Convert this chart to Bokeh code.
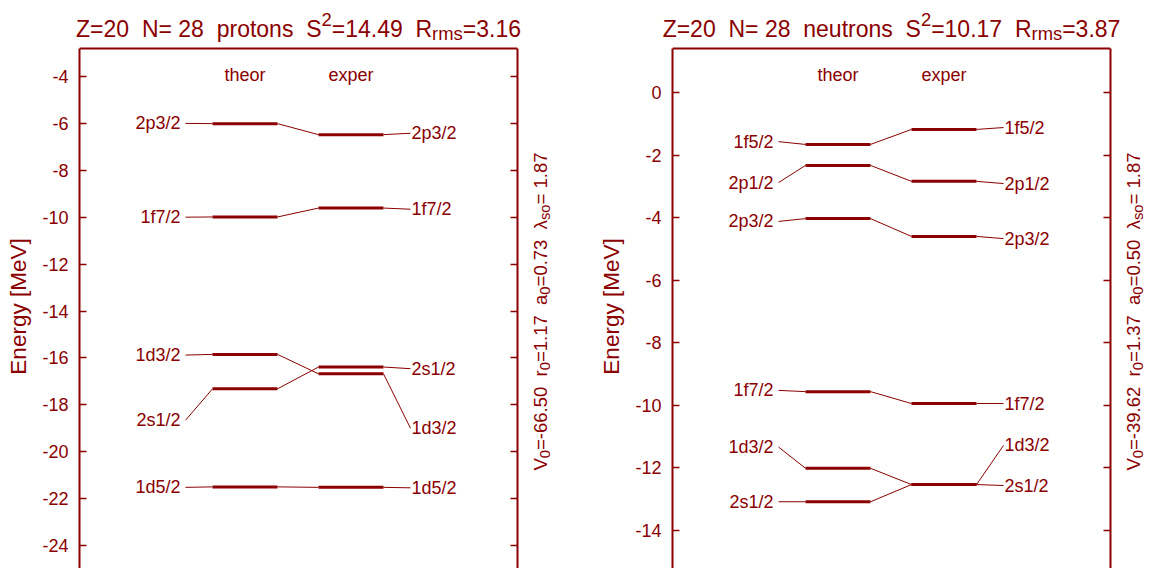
import math
from bokeh.plotting import figure
from bokeh.layouts import row, column
from bokeh.models import Label, LinearAxis, FixedTicker, Range1d, Span
from bokeh.core.properties import value
from bokeh.embed import file_html
from bokeh.resources import INLINE

# ---------------- data ----------------
p_states = ["2p3/2", "1f7/2", "1d3/2", "2s1/2", "1d5/2"]
p_theor = [-6.01, -9.99, -15.85, -17.32, -21.50]
p_exper = [-6.48, -9.61, -16.68, -16.39, -21.52]
p_label_theor = [-6.00, -10.00, -15.88, -18.66, -21.52]
p_label_exper = [-6.42, -9.66, -19.00, -16.46, -21.54]
p_ticks = [-24, -22, -20, -18, -16, -14, -12, -10, -8, -6, -4]

n_states = ["1f5/2", "2p1/2", "2p3/2", "1f7/2", "1d3/2", "2s1/2"]
n_theor = [-1.66, -2.33, -4.03, -9.56, -12.01, -13.08]
n_exper = [-1.18, -2.84, -4.60, -9.94, -12.53, -12.53]
n_label_theor = [-1.57, -2.88, -4.12, -9.52, -11.33, -13.08]
n_label_exper = [-1.12, -2.91, -4.67, -9.94, -11.28, -12.56]
n_ticks = [-14, -12, -10, -8, -6, -4, -2, 0]

p_title = dict(Z="20", N="28", kind="protons", S2="14.49", Rrms="3.16")
n_title = dict(Z="20", N="28", kind="neutrons", S2="10.17", Rrms="3.87")
p_params = dict(V0="-66.50", r0="1.17", a0="0.73", lso="1.87")
n_params = dict(V0="-39.62", r0="1.37", a0="0.50", lso="1.87")

col_headers = ["theor", "exper"]

# ---------------- style ----------------
RED = "#8b0000"
FONT = "Liberation Sans"
FRAME_W = 438
STRIP_H = 44      # title strip height (page y 0..44)
MAIN_H = 524      # main figure height (page y 44..568)
BOX_TOP = 48      # page y of frame box top line
FS = 18
FS_SIDE = 18.5
FS_BIG = 22.5
FS_TITLE = 23

WID = {' ': 278, '=': 584, '-': 333, '.': 278, 'Z': 611, 'N': 722, 'S': 667,
       'R': 722, 'V': 667, 'p': 556, 'r': 333, 'o': 556, 't': 278, 'n': 556,
       's': 500, 'e': 556, 'u': 556, 'm': 833, 'a': 556, 'λ': 500}


def tw(s, size):
    return sum(WID.get(c, 556) for c in s) / 1000.0 * size


def blank_fig(w, h):
    f = figure(width=w, height=h, x_range=Range1d(0, w), y_range=Range1d(0, h),
               x_axis_location=None, y_axis_location=None, toolbar_location=None,
               output_backend="svg", min_border=0, min_border_left=0,
               min_border_right=0, min_border_top=0, min_border_bottom=0,
               outline_line_color=None, background_fill_color="white",
               border_fill_color="white")
    f.grid.visible = False
    return f


def lab(f, x, y, text, fs, align="left", baseline="alphabetic", angle=0.0):
    f.add_layout(Label(x=x, y=y, text=text, angle=angle, text_align=align,
                       text_baseline=baseline, text_color=RED, text_font=FONT,
                       text_font_size=f"{fs:.1f}px"))


def make_panel(states, theor, exper, lab_t, lab_e, ticks, tick_top_val,
               tick_top_px, ppu, title, params, panel_x0, frame_left,
               main_w, side_w):
    y_box = tick_top_val + (tick_top_px - BOX_TOP) / ppu

    def Y(py):  # page y -> data
        return y_box - (py - BOX_TOP) / ppu

    def X(px):  # px relative to frame left -> data
        return px / FRAME_W

    mb_left = frame_left - panel_x0
    p = figure(width=main_w, height=MAIN_H,
               x_range=Range1d(0, 1),
               y_range=Range1d(Y(STRIP_H + MAIN_H), Y(STRIP_H)),
               x_axis_location=None, y_axis_location=None,
               toolbar_location=None, output_backend="svg",
               min_border_left=mb_left,
               min_border_right=main_w - mb_left - FRAME_W,
               min_border_top=0, min_border_bottom=0,
               outline_line_color=None, background_fill_color="white",
               border_fill_color="white")
    p.grid.visible = False

    bounds = (Y(STRIP_H + MAIN_H), y_box)
    left = LinearAxis(ticker=FixedTicker(ticks=ticks), axis_label="Energy [MeV]",
                      bounds=bounds,
                      major_label_overrides={t: str(t) for t in ticks})
    right = LinearAxis(ticker=FixedTicker(ticks=ticks), bounds=bounds,
                       major_label_overrides={t: "" for t in ticks})
    for ax in (left, right):
        ax.axis_line_color = RED
        ax.axis_line_width = 2
        ax.major_tick_line_color = RED
        ax.major_tick_line_width = 1.5
        ax.major_tick_in = 7
        ax.major_tick_out = 0
        ax.minor_tick_line_color = None
        ax.major_label_text_color = RED
        ax.major_label_text_font = FONT
        ax.major_label_text_font_size = f"{FS}px"
    left.major_label_standoff = 11
    right.major_label_standoff = 0
    left.axis_label_text_font = FONT
    left.axis_label_text_font_size = f"{FS_BIG}px"
    left.axis_label_text_font_style = "normal"
    left.axis_label_text_color = RED
    left.axis_label_standoff = 8
    p.add_layout(left, "left")
    p.add_layout(right, "right")
    p.add_layout(Span(location=y_box, dimension="width", line_color=RED,
                      line_width=2))

    n = len(states)
    # layout columns (px relative to frame left)
    x_ltext, x_lc0, x_tb0, x_tb1 = 101, 106, 133, 198
    x_eb0, x_eb1, x_rc1, x_rtext = 239, 304, 331, 332

    p.segment(x0=[X(x_tb0)] * n, y0=theor, x1=[X(x_tb1)] * n, y1=theor,
              line_color=RED, line_width=3)
    p.segment(x0=[X(x_eb0)] * n, y0=exper, x1=[X(x_eb1)] * n, y1=exper,
              line_color=RED, line_width=3)
    p.segment(x0=[X(x_tb1)] * n, y0=theor, x1=[X(x_eb0)] * n, y1=exper,
              line_color=RED, line_width=1)
    p.segment(x0=[X(x_lc0)] * n, y0=lab_t, x1=[X(x_tb0)] * n, y1=theor,
              line_color=RED, line_width=1)
    p.segment(x0=[X(x_eb1)] * n, y0=exper, x1=[X(x_rc1)] * n, y1=lab_e,
              line_color=RED, line_width=1)
    p.text(x=[X(x_ltext)] * n, y=lab_t, text=states, text_align="right",
           text_baseline="middle", text_color=RED, text_font=value(FONT),
           text_font_size=value(f"{FS}px"))
    p.text(x=[X(x_rtext)] * n, y=lab_e, text=states, text_align="left",
           text_baseline="middle", text_color=RED, text_font=value(FONT),
           text_font_size=value(f"{FS}px"))
    for h, (a, b) in zip(col_headers, [(x_tb0, x_tb1), (x_eb0, x_eb1)]):
        lab(p, X((a + b) / 2), Y(74), h, FS, align="center", baseline="middle")

    # ---- title strip ----
    panel_w = main_w + side_w
    t = blank_fig(panel_w, STRIP_H)
    gap = tw("  ", FS_TITLE)
    sub_fs = FS_TITLE * 0.8
    pieces = [(f"Z={title['Z']}", "n", gap), (f"N= {title['N']}", "n", gap),
              (title["kind"], "n", gap), ("S", "n", 0), ("2", "sup", 0),
              (f"={title['S2']}", "n", gap), ("R", "n", 0), ("rms", "sub", 0),
              (f"={title['Rrms']}", "n", 0)]
    total = sum(tw(s, FS_TITLE if k == "n" else sub_fs) + g for s, k, g in pieces)
    x = (frame_left - panel_x0) + FRAME_W / 2 - total / 2
    base = 28
    for s, k, g in pieces:
        fs = FS_TITLE if k == "n" else sub_fs
        yy = base + (-9 if k == "sup" else (5 if k == "sub" else 0))
        lab(t, x, STRIP_H - yy, s, fs)
        x += tw(s, fs) + g

    # ---- side strip (rotated parameters) ----
    sd = blank_fig(side_w, MAIN_H)
    gap2 = tw("  ", FS_SIDE)
    sfs = FS_SIDE * 0.8
    vp = [("V", "n", 0), ("0", "sub", 0), (f"={params['V0']}", "n", gap2),
          ("r", "n", 0), ("0", "sub", 0), (f"={params['r0']}", "n", gap2),
          ("a", "n", 0), ("0", "sub", 0), (f"={params['a0']}", "n", gap2),
          ("λ", "n", 0), ("so", "sub", 0), (f"= {params['lso']}", "n", 0)]
    xb = frame_left + FRAME_W + 23 - (panel_x0 + main_w)
    ypos = 470.0
    for s, k, g in vp:
        fs = FS_SIDE if k == "n" else sfs
        xx = xb + (4 if k == "sub" else 0)
        lab(sd, xx, STRIP_H + MAIN_H - ypos, s, fs, angle=math.pi / 2)
        ypos -= tw(s, fs) + g

    return column(t, row(p, sd))


c1 = make_panel(p_states, p_theor, p_exper, p_label_theor, p_label_exper,
                p_ticks, -4, 76, 23.45, p_title, p_params, 0, 79, 525, 55)
c2 = make_panel(n_states, n_theor, n_exper, n_label_theor, n_label_exper,
                n_ticks, 0, 92, 31.29, n_title, n_params, 580, 672, 538, 29)

layout = row(c1, c2)
open("out.html", "w").write(file_html(layout, INLINE))
